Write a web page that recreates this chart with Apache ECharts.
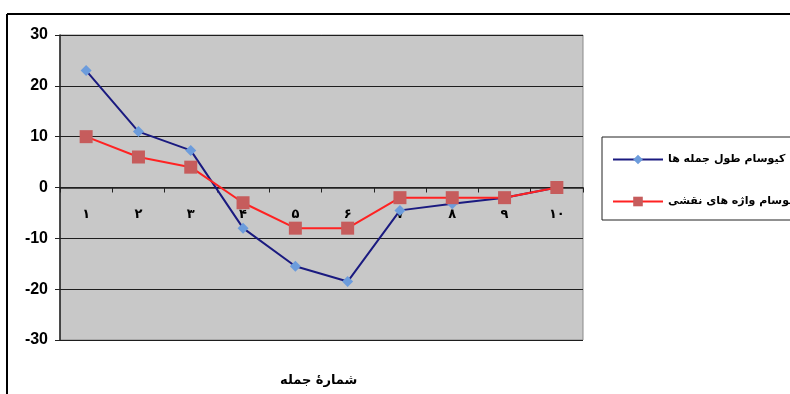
<!DOCTYPE html>
<html><head><meta charset="utf-8">
<script src="https://cdn.jsdelivr.net/npm/echarts@6/dist/echarts.min.js"></script>
<style>html,body{margin:0;padding:0;background:#fff}#c{width:790px;height:394px}</style>
</head><body><div id="c"></div>
<script>
var categories = ['۱','۲','۳','۴','۵','۶','۷','۸','۹','۱۰'];
var seriesNames = ['کیوسام طول جمله ها', 'کیوسام واژه های نقشی'];
var sentenceLength = [23, 11, 7.3, -8, -15.5, -18.5, -4.5, -3.2, -2, 0];
var functionWords = [10, 6, 4, -3, -8, -8, -2, -2, -2, 0];
var yTicks = [-30, -20, -10, 0, 10, 20, 30];
var xTitle = 'شمارهٔ جمله';

var chart = echarts.init(document.getElementById('c'));
chart.setOption({
  animation: false,
  backgroundColor: '#fff',
  grid: {left: 60, right: 207, top: 35, bottom: 54, outerBoundsMode: 'none', containLabel: false,
         show: true, backgroundColor: '#c8c8c8', borderColor: '#8a8a8a', borderWidth: 1},
  legend: {
    orient: 'vertical', left: 602, top: 137,
    padding: [17, 10, 13, 10], itemGap: 31,
    itemWidth: 50, itemHeight: 12,
    borderColor: '#222', borderWidth: 1,
    textStyle: {fontFamily: 'DejaVu Sans', fontWeight: 'bold', fontSize: 11, color: '#000'},
    data: seriesNames
  },
  xAxis: {
    type: 'category', data: categories, offset: -152.5,
    axisLine: {onZero: false, lineStyle: {color: '#222', width: 1.5}},
    axisTick: {show: true, length: 5, lineStyle: {color: '#222'}},
    axisLabel: {margin: 21, fontFamily: 'DejaVu Sans', fontWeight: 'bold', fontSize: 13, color: '#000'}
  },
  yAxis: {
    type: 'value', min: yTicks[0], max: yTicks[yTicks.length-1], interval: 10,
    axisLine: {show: true, lineStyle: {color: '#222', width: 1.5}},
    axisTick: {show: true, length: 5, lineStyle: {color: '#222'}},
    axisLabel: {margin: 12, fontFamily: 'Liberation Sans', fontWeight: 'bold', fontSize: 16, color: '#000'},
    splitLine: {show: true, lineStyle: {color: '#1e1e1e', width: 1.2}}
  },
  series: [
    {name: seriesNames[0], type: 'line', data: sentenceLength,
     symbol: 'diamond', symbolSize: 11,
     lineStyle: {color: '#1a1a80', width: 2},
     itemStyle: {color: '#6c9cdc'}},
    {name: seriesNames[1], type: 'line', data: functionWords,
     symbol: 'rect', symbolSize: 13,
     lineStyle: {color: '#ff2222', width: 2},
     itemStyle: {color: '#c65c5c'}}
  ],
  graphic: [
    {type: 'line', shape: {x1: 7, y1: 14, x2: 790, y2: 14}, style: {stroke: '#000', lineWidth: 2}},
    {type: 'line', shape: {x1: 7, y1: 14, x2: 7, y2: 394}, style: {stroke: '#000', lineWidth: 2}},
    {type: 'text', left: 280, top: 374, style: {text: xTitle, fontFamily: 'DejaVu Sans', fontWeight: 'bold', fontSize: 13, fill: '#000'}}
  ]
});
</script></body></html>
